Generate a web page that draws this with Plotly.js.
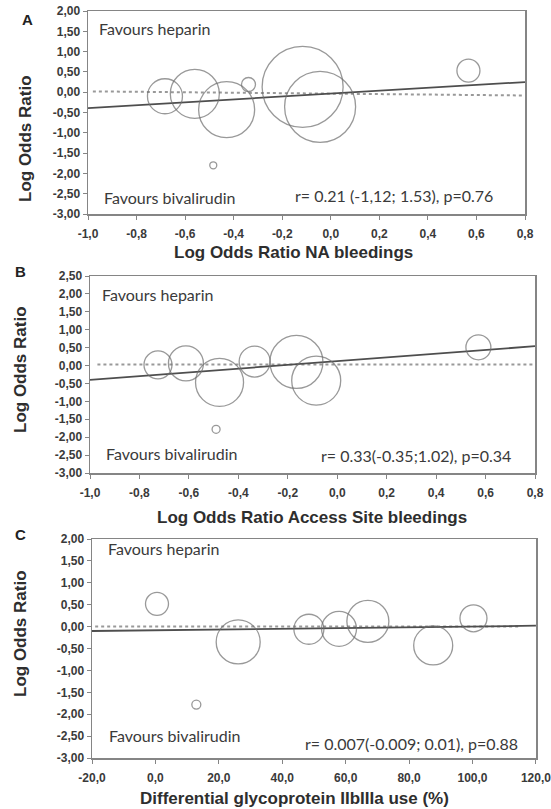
<!DOCTYPE html>
<html>
<head>
<meta charset="utf-8">
<script src="https://cdn.plot.ly/plotly-3.0.1.min.js"></script>
<style>html,body{margin:0;padding:0;background:#fff;}#chart{width:551px;height:809px;}</style>
</head>
<body>
<div id="chart"></div>
<script>
// ---------- Data ----------
// Panel A: Log Odds Ratio NA bleedings
const naX    = [-0.683, -0.56, -0.429, -0.339, -0.116, -0.044, 0.567, -0.484];
const naY    = [-0.10, -0.04, -0.43, 0.19, 0.13, -0.36, 0.53, -1.80];
const naW    = [35, 49, 56, 14, 81, 71, 23, 7];
const naFitX = [-1.0, 0.8];
const naFitY = [-0.39, 0.25];
const naRefX = [-0.98, 0.79];
const naRefY = [0.02, -0.08];

// Panel B: Log Odds Ratio Access Site bleedings
const asX    = [-0.725, -0.612, -0.476, -0.334, -0.165, -0.085, 0.571, -0.49];
const asY    = [0.02, 0.06, -0.47, 0.11, 0.10, -0.42, 0.51, -1.78];
const asW    = [28, 35, 48, 31, 53, 49, 25, 8];
const asFitX = [-1.0, 0.8];
const asFitY = [-0.40, 0.54];
const asRefX = [-0.97, 0.79];
const asRefY = [0.03, 0.03];

// Panel C: Differential glycoprotein IIbIIIa use (%)
const gpX    = [0.5, 12.9, 26.1, 48.4, 57.9, 67.0, 87.6, 100.3];
const gpY    = [0.52, -1.78, -0.35, -0.06, -0.05, 0.12, -0.43, 0.19];
const gpW    = [23, 9, 44, 30, 35, 42, 39, 27];
const gpFitX = [-20, 120];
const gpFitY = [-0.10, 0.02];
const gpRefX = [-19, 115];
const gpRefY = [0.0, 0.0];

// Tick labels
const yTicksAC   = [2, 1.5, 1, 0.5, 0, -0.5, -1, -1.5, -2, -2.5, -3];
const yLabelsAC  = ["2,00","1,50","1,00","0,50","0,00","-0,50","-1,00","-1,50","-2,00","-2,50","-3,00"];
const yTicksB    = [2.5, 2, 1.5, 1, 0.5, 0, -0.5, -1, -1.5, -2, -2.5, -3];
const yLabelsB   = ["2,50","2,00","1,50","1,00","0,50","0,00","-0,50","-1,00","-1,50","-2,00","-2,50","-3,00"];
const xTicksAB   = [-1, -0.8, -0.6, -0.4, -0.2, 0, 0.2, 0.4, 0.6, 0.8];
const xLabelsAB  = ["-1,0","-0,8","-0,6","-0,4","-0,2","0,0","0,2","0,4","0,6","0,8"];
const xTicksC    = [-20, 0, 20, 40, 60, 80, 100, 120];
const xLabelsC   = ["-20,0","0,0","20,0","40,0","60,0","80,0","100,0","120,0"];

// Texts
const panelLetters = ["A", "B", "C"];
const yTitle = "Log Odds Ratio";
const xTitles = ["Log Odds Ratio NA bleedings", "Log Odds Ratio Access Site bleedings", "Differential glycoprotein IIbIIIa use (%)"];
const favTop = "Favours heparin";
const favBottom = "Favours bivalirudin";
const statTexts = ["r= 0.21 (-1,12; 1.53), p=0.76", "r= 0.33(-0.35;1.02), p=0.34", "r= 0.007(-0.009; 0.01), p=0.88"];

// ---------- Layout helpers ----------
const W = 551, H = 809;
const px = v => v / W;
const py = v => 1 - v / H;

const BORDER = '#858585';
const tickFont = {family: 'Liberation Sans, Arial, sans-serif', size: 12, color: '#3a3a3a', weight: 'bold'};
const titleFont = {family: 'Liberation Sans, Arial, sans-serif', size: 17, color: '#2e2e2e', weight: 'bold'};
const noteFont = {family: 'Lato, Open Sans, sans-serif', size: 16, color: '#3a3a3a'};

function axisBase(extra) {
  return Object.assign({
    showline: true, mirror: true, linecolor: BORDER, linewidth: 1.5,
    ticks: 'outside', ticklen: 4, tickcolor: BORDER, tickwidth: 1,
    showgrid: false, zeroline: false, tickfont: tickFont, tickmode: 'array',
    fixedrange: true, automargin: false
  }, extra);
}

function bubbles(x, y, w, xa, ya) {
  return {x: x, y: y, xaxis: xa, yaxis: ya, type: 'scatter', mode: 'markers',
    marker: {size: w, sizemode: 'diameter', color: 'rgba(0,0,0,0)', line: {color: '#6e6e6e', width: 1.3}},
    hoverinfo: 'x+y', showlegend: false, cliponaxis: false};
}
function fitLine(x, y, xa, ya) {
  return {x: x, y: y, xaxis: xa, yaxis: ya, type: 'scatter', mode: 'lines',
    line: {color: '#4e4e4e', width: 1.8}, hoverinfo: 'skip', showlegend: false};
}
function refLine(x, y, xa, ya) {
  return {x: x, y: y, xaxis: xa, yaxis: ya, type: 'scatter', mode: 'lines',
    line: {color: '#999', width: 2, dash: 'dot'}, hoverinfo: 'skip', showlegend: false};
}

const data = [
  refLine(naRefX, naRefY, 'x', 'y'), fitLine(naFitX, naFitY, 'x', 'y'), bubbles(naX, naY, naW, 'x', 'y'),
  refLine(asRefX, asRefY, 'x2', 'y2'), fitLine(asFitX, asFitY, 'x2', 'y2'), bubbles(asX, asY, asW, 'x2', 'y2'),
  refLine(gpRefX, gpRefY, 'x3', 'y3'), fitLine(gpFitX, gpFitY, 'x3', 'y3'), bubbles(gpX, gpY, gpW, 'x3', 'y3')
];

// panel boxes in pixels: [left, right, top, bottom]
const boxes = [[88, 525, 11, 214], [90, 535, 276, 473], [92, 536, 539, 758]];

const layout = {
  width: W, height: H,
  margin: {l: 0, r: 0, t: 0, b: 0},
  paper_bgcolor: '#fff', plot_bgcolor: '#fff',
  showlegend: false,
  xaxis:  axisBase({domain: [px(boxes[0][0]), px(boxes[0][1])], range: [-1, 0.8], tickvals: xTicksAB, ticktext: xLabelsAB, anchor: 'y', ticklabelstandoff: 4}),
  yaxis:  axisBase({domain: [py(boxes[0][3]), py(boxes[0][2])], range: [-3, 2], tickvals: yTicksAC, ticktext: yLabelsAC, anchor: 'x'}),
  xaxis2: axisBase({domain: [px(boxes[1][0]), px(boxes[1][1])], range: [-1, 0.8], tickvals: xTicksAB, ticktext: xLabelsAB, anchor: 'y2', ticklabelstandoff: 4}),
  yaxis2: axisBase({domain: [py(boxes[1][3]), py(boxes[1][2])], range: [-3, 2.5], tickvals: yTicksB, ticktext: yLabelsB, anchor: 'x2'}),
  xaxis3: axisBase({domain: [px(boxes[2][0]), px(boxes[2][1])], range: [-20, 120.02], tickvals: xTicksC, ticktext: xLabelsC, anchor: 'y3', ticklabelstandoff: 4, ticklabeloverflow: 'allow'}),
  yaxis3: axisBase({domain: [py(boxes[2][3]), py(boxes[2][2])], range: [-3, 2], tickvals: yTicksAC, ticktext: yLabelsAC, anchor: 'x3'}),
  annotations: []
};

const ann = (text, x, y, font, xanchor, extra) => Object.assign({
  text: text, xref: 'paper', yref: 'paper', x: px(x), y: py(y),
  xanchor: xanchor || 'center', yanchor: 'middle', showarrow: false, font: font
}, extra || {});

const letterPos = [[27, 20], [20, 271], [20, 534]];
const yTitlePos = [[25, 139], [20, 370], [20, 634]];
const xTitlePos = [[293, 252], [312, 517], [294, 798]];
const favTopPos = [[97, 28], [100, 295], [106, 548]];
const favBotPos = [[102, 197], [104, 453], [107, 735]];
const statPos   = [[495, 195], [513, 455], [520, 743]];

for (let i = 0; i < 3; i++) {
  layout.annotations.push(ann(panelLetters[i], letterPos[i][0], letterPos[i][1], {family: 'Liberation Sans, Arial', size: 15, color: '#222', weight: 'bold'}));
  layout.annotations.push(ann(yTitle, yTitlePos[i][0], yTitlePos[i][1], titleFont, 'center', {textangle: -90}));
  layout.annotations.push(ann(xTitles[i], xTitlePos[i][0], xTitlePos[i][1], titleFont));
  layout.annotations.push(ann(favTop, favTopPos[i][0], favTopPos[i][1], noteFont, 'left'));
  layout.annotations.push(ann(favBottom, favBotPos[i][0], favBotPos[i][1], noteFont, 'left'));
  layout.annotations.push(ann(statTexts[i], statPos[i][0], statPos[i][1], noteFont, 'right'));
}

Plotly.newPlot('chart', data, layout, {staticPlot: true, displayModeBar: false});
</script>
</body>
</html>
